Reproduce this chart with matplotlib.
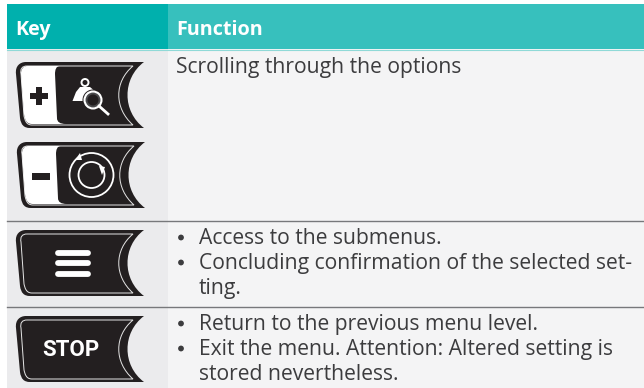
import matplotlib.pyplot as plt
from matplotlib.path import Path
from matplotlib.patches import PathPatch, Rectangle, Circle, Polygon

plt.rcParams['font.family'] = ['Open Sans', 'DejaVu Sans']

headers = ['Key', 'Function']
row1_text = ['Scrolling through the options']
row2_text = ['Access to the submenus.', 'Concluding confirmation of the selected set-', 'ting.']
row2_bullets = [True, True, False]
row3_text = ['Return to the previous menu level.', 'Exit the menu. Attention: Altered setting is', 'stored nevertheless.']
row3_bullets = [True, True, False]

DARK = '#231f20'
TXT = '#3c3c3e'
FS = 15.2

fig = plt.figure(figsize=(6.44, 3.88), dpi=100)
ax = fig.add_axes([0, 0, 1, 1])
ax.set_xlim(0, 644)
ax.set_ylim(388, 0)
ax.axis('off')

C = [Path.CURVE4] * 3
L = [Path.LINETO]


def outline(x, y, w=128, h=66):
    # key body with rounded left side and concave right side
    verts = [(x + 10, y), (x + w, y),
             (x + w - 22, y + h * 0.25), (x + w - 22, y + h * 0.75), (x + w, y + h),
             (x + 14, y + h),
             (x + 8, y + h), (x + 5, y + h - 3), (x + 4, y + h - 10),
             (x + 0, y + 12),
             (x - 1, y + 4), (x + 4, y), (x + 10, y)]
    codes = [Path.MOVETO] + L + C + L + C + L + C
    return Path(verts, codes)


def inner_line(x, y, w=128, h=66):
    verts = [(x + 11, y + 4), (x + w - 11, y + 4),
             (x + w - 30, y + h * 0.3), (x + w - 30, y + h * 0.7), (x + w - 11, y + h - 3),
             (x + 16, y + h - 3),
             (x + 10, y + h - 3), (x + 9, y + h - 8), (x + 8, y + h - 12),
             (x + 5, y + 12),
             (x + 4, y + 7), (x + 6, y + 4), (x + 11, y + 4)]
    codes = [Path.MOVETO] + L + C + L + C + L + C
    return Path(verts, codes)


def draw_key(x, y):
    ax.add_patch(PathPatch(outline(x, y), fc=DARK, ec='none', zorder=3))
    ax.add_patch(PathPatch(inner_line(x, y), fc='none', ec='#e6e6e6', lw=0.7, zorder=4))


def draw_split_key(x, y):
    draw_key(x, y)
    # white plus / minus half
    verts = [(x + 12, y + 4), (x + 44, y + 4), (x + 40, y + 4), (x + 39, y + 8), (x + 39, y + 12),
             (x + 41, y + 56), (x + 41, y + 60), (x + 44, y + 62), (x + 50, y + 62),
             (x + 16, y + 62), (x + 10, y + 62), (x + 9, y + 57), (x + 8, y + 52),
             (x + 5, y + 12), (x + 5, y + 7), (x + 7, y + 4), (x + 12, y + 4)]
    codes = [Path.MOVETO] + L + C + L + C + L + C + L + C
    ax.add_patch(PathPatch(Path(verts, codes), fc='white', ec='none', zorder=5))


# backgrounds
ax.add_patch(Rectangle((7, 49), 161, 339, fc='#ebebed', ec='none', zorder=0))
ax.add_patch(Rectangle((168, 49), 476, 339, fc='#f4f4f5', ec='none', zorder=0))
ax.add_patch(Rectangle((7, 4), 161, 45, fc='#00b0ad', ec='none', zorder=1))
ax.add_patch(Rectangle((168, 4), 476, 45, fc='#37c0bd', ec='none', zorder=1))
ax.plot([7, 644], [49.5, 49.5], color='#8fd9d7', lw=0.8, zorder=2)
ax.plot([7, 644], [221, 221], color='#77787b', lw=1.0, zorder=2)
ax.plot([7, 644], [307, 307], color='#77787b', lw=1.0, zorder=2)

# header
ax.text(15, 35, headers[0], color='white', fontsize=14.2, fontweight='bold', va='baseline', zorder=3)
ax.text(176, 35, headers[1], color='white', fontsize=14.2, fontweight='bold', va='baseline', zorder=3)

# keys
draw_split_key(16, 62)
ax.add_patch(Rectangle((30, 92.5), 18, 6.5, fc=DARK, ec='none', zorder=6))
ax.add_patch(Rectangle((35.7, 87), 6.5, 18, fc=DARK, ec='none', zorder=6))
# person with magnifier
ax.add_patch(Circle((85, 82.5), 3.5, fc='none', ec='white', lw=1.4, zorder=6))
ax.add_patch(Polygon([(72.5, 101), (76, 92), (80, 87), (90, 87), (97, 93), (90, 101)],
                     fc='white', ec='none', zorder=6))
ax.add_patch(Circle((93, 100), 10.5, fc=DARK, ec='none', zorder=7))
ax.add_patch(Circle((93, 100), 8.5, fc='#4a4a4c', ec='white', lw=1.5, zorder=8))
ax.add_patch(Circle((93, 100), 5.5, fc=DARK, ec='none', zorder=9))
ax.plot([99, 108], [106, 114], color='white', lw=2.0, zorder=8)

draw_split_key(17, 142)
ax.add_patch(Rectangle((32, 173), 18, 6.5, fc=DARK, ec='none', zorder=6))
ax.add_patch(Circle((91.5, 175), 22, fc='none', ec='white', lw=1.3, zorder=6))
ax.add_patch(Circle((91.5, 175), 13, fc='none', ec='white', lw=1.3, zorder=6))
ax.add_patch(Polygon([(75, 160), (80, 153), (82, 160)], fc='white', ec='none', zorder=7))
ax.add_patch(Polygon([(99, 166), (105, 167), (102, 175)], fc='white', ec='none', zorder=7))

draw_key(16, 230)
for yy in [252.7, 263.3, 274]:
    ax.plot([58, 88], [yy, yy], color='white', lw=4.2, solid_capstyle='round', zorder=6)

draw_key(16, 316)
ax.text(71, 350.5, 'STOP', color='white', fontsize=16, fontweight='bold', family='Roboto',
        ha='center', va='center', zorder=6)

# text
LINE = 25
ax.text(176, 73, row1_text[0], color=TXT, fontsize=FS, va='baseline', zorder=3)


def bullet_rows(lines, flags, y0):
    for i, (s, b) in enumerate(zip(lines, flags)):
        y = y0 + i * LINE
        if b:
            ax.add_patch(Circle((181, y - 6.5), 2.9, fc=TXT, ec='none', zorder=3))
        ax.text(199, y, s, color=TXT, fontsize=FS, va='baseline', zorder=3)


bullet_rows(row2_text, row2_bullets, 244)
bullet_rows(row3_text, row3_bullets, 330)

fig.savefig('out.png', dpi=100)
